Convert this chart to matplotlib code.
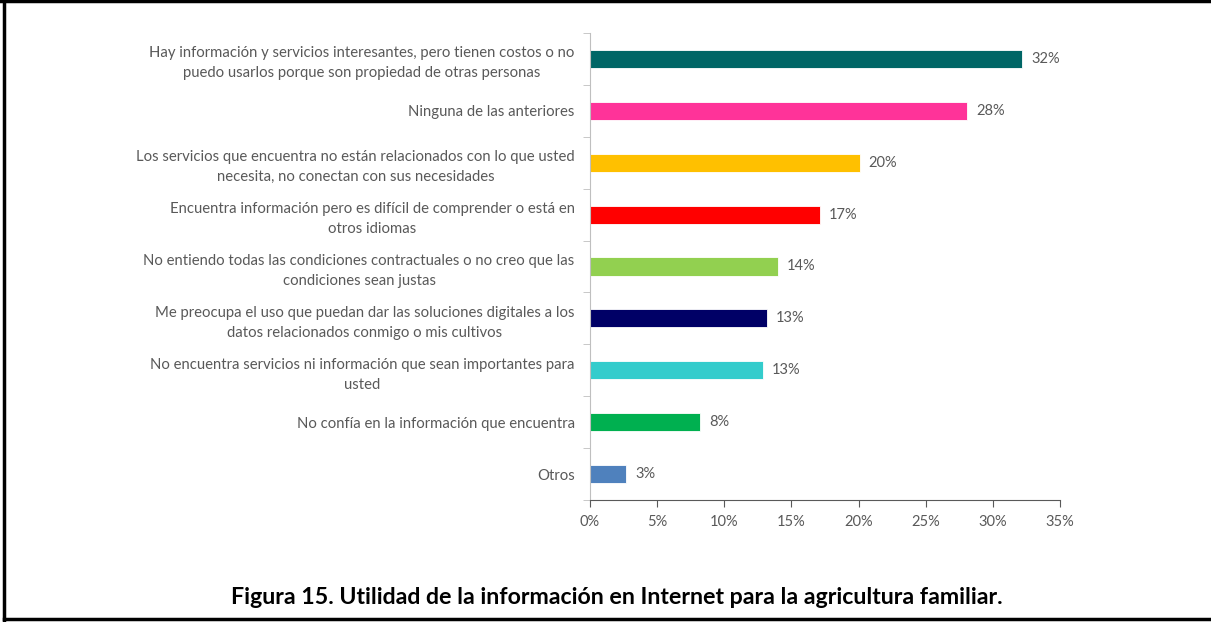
import matplotlib.pyplot as plt
from matplotlib.lines import Line2D

plt.rcParams["font.family"] = ["Lato", "DejaVu Sans"]

# categories from top to bottom
categories = [
    "Hay información y servicios interesantes, pero tienen costos o no\npuedo usarlos porque son propiedad de otras personas",
    "Ninguna de las anteriores",
    "Los servicios que encuentra no están relacionados con lo que usted\nnecesita, no conectan con sus necesidades",
    "Encuentra información pero es difícil de comprender o está en\notros idiomas",
    "No entiendo todas las condiciones contractuales o no creo que las\ncondiciones sean justas",
    "Me preocupa el uso que puedan dar las soluciones digitales a los\ndatos relacionados conmigo o mis cultivos",
    "No encuentra servicios ni información que sean importantes para\nusted",
    "No confía en la información que encuentra",
    "Otros",
]
values = [32.2, 28.1, 20.1, 17.1, 14.0, 13.2, 12.9, 8.2, 2.7]
colors = ["#006666", "#FF3399", "#FFC000", "#FF0000", "#92D050",
          "#000066", "#33CCCC", "#00B050", "#4F81BD"]
xticks = [0, 5, 10, 15, 20, 25, 30, 35]

grey = "#595959"
axis_grey = "#BFBFBF"

fig = plt.figure(figsize=(12.11, 6.22), dpi=100)
ax = fig.add_axes([590 / 1211, 1 - 500 / 622, 470 / 1211, 467 / 622])

pos = list(range(len(categories)))
ax.barh(pos, values, height=0.35, color=colors, edgecolor="white", linewidth=0.6)
ax.set_ylim(len(categories) - 0.5, -0.5)
ax.set_xlim(0, 35)

for p, v in zip(pos, values):
    ax.text(v + 0.65, p, f"{v:.0f}%", va="center", ha="left", fontsize=10.5, color=grey)

ax.set_xticks(xticks)
ax.set_xticklabels([f"{t}%" for t in xticks], fontsize=10.5, color=grey)
ax.set_yticks(pos)
ax.set_yticklabels(categories, fontsize=10.7, color=grey, ha="right",
                   multialignment="center", linespacing=1.55)
ax.tick_params(axis="y", length=0, pad=11)
ax.tick_params(axis="x", length=5, color=grey, pad=6)

# category separator ticks on the value axis
ax.set_yticks([p + 0.5 for p in [-1] + pos], minor=True)
ax.tick_params(axis="y", which="minor", length=5, color=axis_grey)

for side in ["top", "right"]:
    ax.spines[side].set_visible(False)
ax.spines["left"].set_color(axis_grey)
ax.spines["bottom"].set_color(grey)

# frame around the figure
fig.add_artist(Line2D([4 / 1211, 4 / 1211], [0, 1], color="black", lw=2.5))
fig.add_artist(Line2D([0, 1], [1 - 1 / 622, 1 - 1 / 622], color="black", lw=2.5))
fig.add_artist(Line2D([4 / 1211, 1], [1 - 619 / 622, 1 - 619 / 622], color="black", lw=2.5))

fig.text(617 / 1211, 1 - 597 / 622,
         "Figura 15. Utilidad de la información en Internet para la agricultura familiar.",
         ha="center", va="center", fontsize=16.7, fontweight="bold", color="black")

fig.savefig("out.png", dpi=100)
